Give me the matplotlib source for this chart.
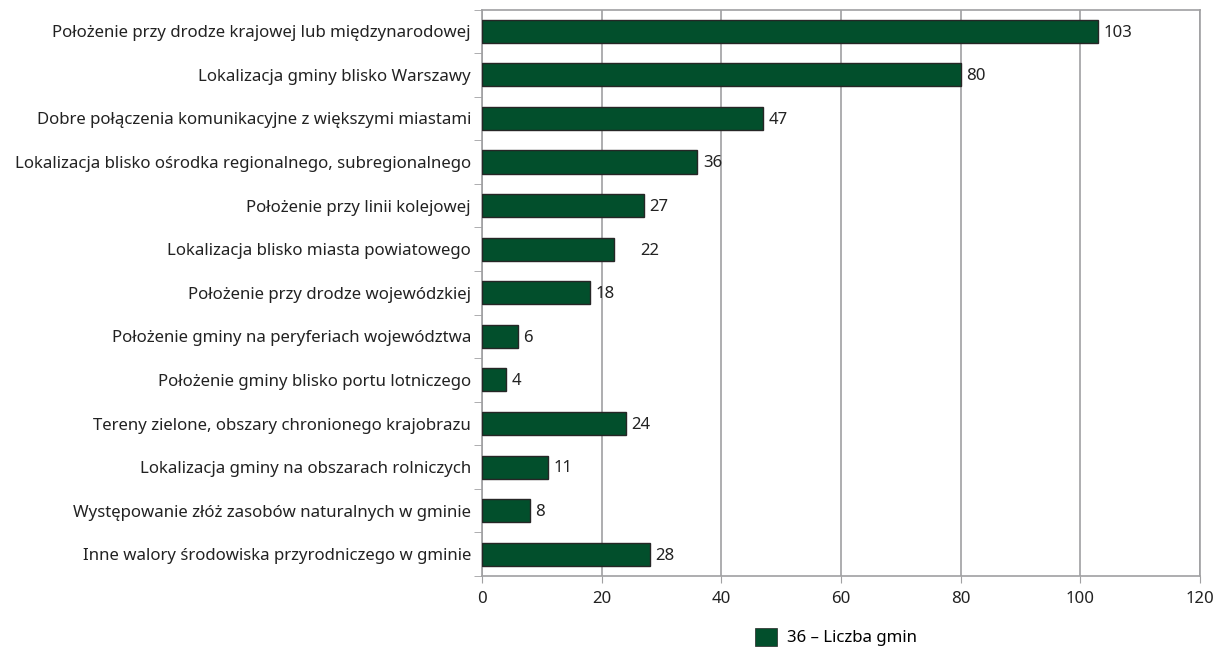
import matplotlib
matplotlib.use("Agg")
import matplotlib.pyplot as plt
from matplotlib.patches import Patch

plt.rcParams['font.family'] = ['Noto Sans', 'DejaVu Sans']

categories = [
    "Położenie przy drodze krajowej lub międzynarodowej",
    "Lokalizacja gminy blisko Warszawy",
    "Dobre połączenia komunikacyjne z większymi miastami",
    "Lokalizacja blisko ośrodka regionalnego, subregionalnego",
    "Położenie przy linii kolejowej",
    "Lokalizacja blisko miasta powiatowego",
    "Położenie przy drodze wojewódzkiej",
    "Położenie gminy na peryferiach województwa",
    "Położenie gminy blisko portu lotniczego",
    "Tereny zielone, obszary chronionego krajobrazu",
    "Lokalizacja gminy na obszarach rolniczych",
    "Występowanie złóż zasobów naturalnych w gminie",
    "Inne walory środowiska przyrodniczego w gminie",
]
values = [103, 80, 47, 36, 27, 22, 18, 6, 4, 24, 11, 8, 28]
legend_label = "36 – Liczba gmin"

green = "#024f2c"
grid_col = "#a0a0a2"
fs = 12.1

fig = plt.figure(figsize=(12.21, 6.47), dpi=100)
ax = fig.add_axes([0.3948, 0.1097, 0.9828 - 0.3948, 0.9853 - 0.1097])

n = len(categories)
ypos = list(range(n))
ax.barh(ypos, values, height=0.53, color=green, edgecolor="#262626", linewidth=1.0, zorder=3)

for y, v in zip(ypos, values):
    off = 19 if v == 22 else 4
    ax.annotate(str(v), (v, y), xytext=(off, -1), textcoords="offset points",
                va="center", ha="left", fontsize=fs, color="#222222")

ax.set_xlim(0, 120)
ax.set_ylim(n - 0.5, -0.5)
ax.set_xticks(range(0, 121, 20))
ax.tick_params(axis='x', labelsize=fs, length=5, pad=6, color=grid_col, labelcolor="#222222")
ax.xaxis.grid(True, color=grid_col, linewidth=1.2, zorder=0)

ax.set_yticks(ypos)
ax.set_yticklabels(categories, fontsize=fs, color="#222222")
ax.tick_params(axis='y', length=0, pad=8)
ax.set_yticks([i + 0.5 for i in range(-1, n)], minor=True)
ax.tick_params(axis='y', which='minor', length=6, color=grid_col)

for s in ax.spines.values():
    s.set_color(grid_col)
    s.set_linewidth(1.2)

handle = Patch(facecolor=green, edgecolor="#262626", linewidth=0.5)
fig.legend([handle], [legend_label], loc="center left", bbox_to_anchor=(0.6115, 0.0155),
           frameon=False, fontsize=fs, handlelength=1.3, handleheight=1.3, handletextpad=0.6,
           borderpad=0)

fig.savefig("out.png", dpi=100)
